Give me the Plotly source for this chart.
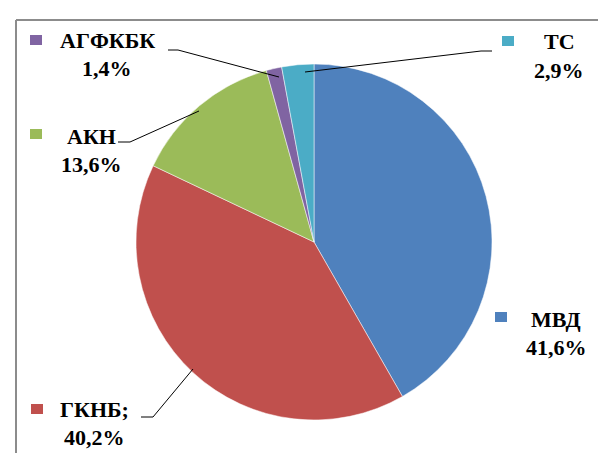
import plotly.graph_objects as go

labels = ["МВД", "ГКНБ;", "АКН", "АГФКБК", "ТС"]
values = [41.6, 40.2, 13.6, 1.4, 2.9]
pct_text = ["41,6%", "40,2%", "13,6%", "1,4%", "2,9%"]
colors = ["#4F81BD", "#C0504D", "#9BBB59", "#8064A2", "#4BACC6"]

W, H = 606, 453

def px(x):
    return x / W

def py(y):
    return 1 - y / H

# label layout (pixel positions of label centres, marker squares, leader lines)
label_pos = {
    "МВД": (548, 325),
    "ГКНБ;": (86, 415),
    "АКН": (83, 142),
    "АГФКБК": (99, 46),
    "ТС": (551, 48),
}
marker_pos = {
    "МВД": (487, 304),
    "ГКНБ;": (23, 396),
    "АКН": (22, 121),
    "АГФКБК": (22, 27),
    "ТС": (494, 28),
}
leaders = {
    "ГКНБ;": [(133, 409), (145, 409), (185, 361)],
    "АКН": [(110, 134), (122, 134), (191, 103)],
    "АГФКБК": [(160, 42), (170, 42), (271, 69)],
    "ТС": [(484, 43), (473, 43), (297, 64)],
}

cx0, cy0, r0 = 306, 234, 178
fig = go.Figure(go.Pie(
    labels=labels, values=values, sort=False, direction="clockwise",
    rotation=0, textinfo="none", hoverinfo="label+percent",
    marker=dict(colors=colors, line=dict(color="white", width=0.5)),
    domain=dict(x=[px(cx0 - r0), px(cx0 + r0)], y=[py(cy0 + r0), py(cy0 - r0)]),
    showlegend=False,
))

shapes = []
# frame (top and left edges visible)
shapes.append(dict(type="line", xref="paper", yref="paper", x0=px(8), y0=py(12), x1=1.0, y1=py(12),
                   line=dict(color="#8C8C8C", width=2)))
shapes.append(dict(type="line", xref="paper", yref="paper", x0=px(8), y0=py(12), x1=px(8), y1=0,
                   line=dict(color="#8C8C8C", width=2)))

font = dict(family="Liberation Serif", size=22, weight="bold", color="#000")
annotations = []
for lab, pct, col in zip(labels, pct_text, colors):
    mx, my = marker_pos[lab]
    shapes.append(dict(type="rect", xref="paper", yref="paper",
                       x0=px(mx), y0=py(my + 10), x1=px(mx + 12), y1=py(my),
                       fillcolor=col, line=dict(width=0)))
    cx, cy = label_pos[lab]
    for txt, dy in ((lab, -14), (pct, 14)):
        annotations.append(dict(xref="paper", yref="paper", x=px(cx), y=py(cy + dy),
                                text=f"<b>{txt}</b>", showarrow=False,
                                xanchor="center", yanchor="middle", font=font))
    if lab in leaders:
        pts = leaders[lab]
        for (x0, y0), (x1, y1) in zip(pts[:-1], pts[1:]):
            shapes.append(dict(type="line", xref="paper", yref="paper",
                               x0=px(x0), y0=py(y0), x1=px(x1), y1=py(y1),
                               line=dict(color="#000", width=1)))

fig.update_layout(width=W, height=H, margin=dict(l=0, r=0, t=0, b=0),
                  font=dict(family="Liberation Serif", size=22, color="#000"),
                  paper_bgcolor="white", plot_bgcolor="white",
                  shapes=shapes, annotations=annotations)

fig.write_html("out.html")
